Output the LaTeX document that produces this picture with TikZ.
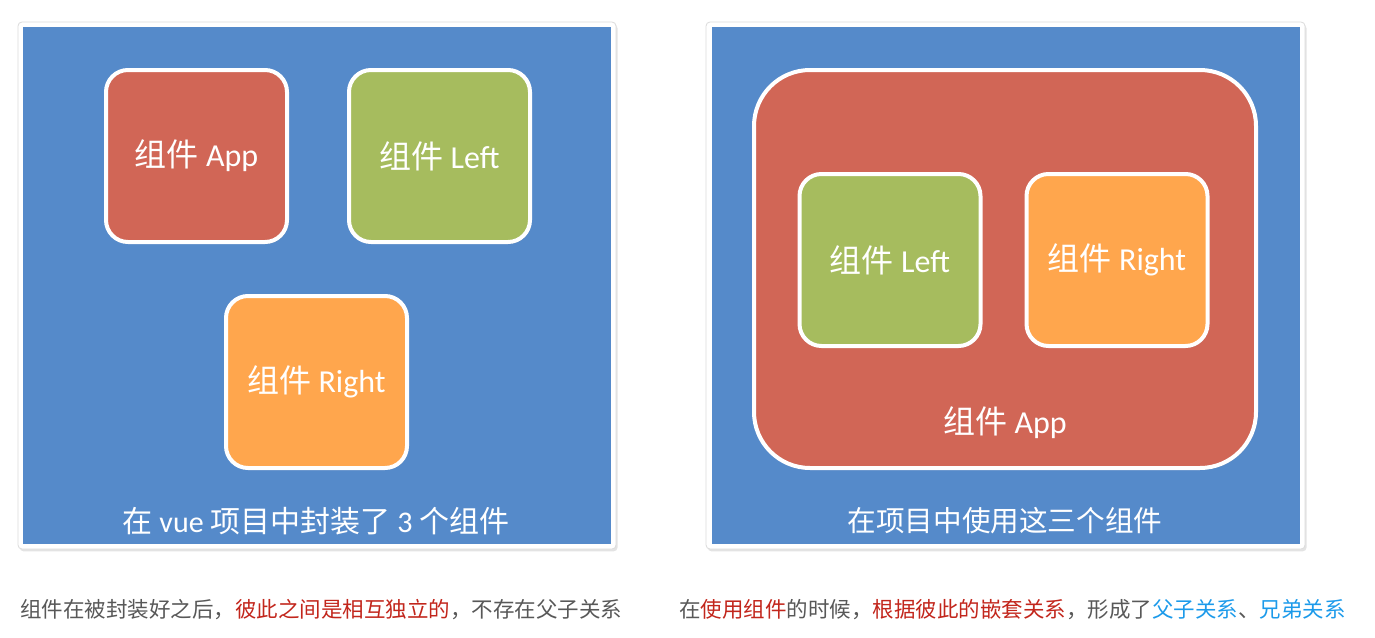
\documentclass[tikz,border=0pt]{standalone}
\usepackage{fontspec}
\setmainfont{Carlito}
\newfontfamily\cjk{Noto Sans CJK SC}
\newcommand{\zh}[1]{{\cjk #1}}
\usetikzlibrary{positioning,shadows}
\definecolor{panelblue}{RGB}{85,138,202}
\definecolor{appred}{RGB}{209,102,86}
\definecolor{leftgreen}{RGB}{166,188,94}
\definecolor{rightorange}{RGB}{255,166,77}
\definecolor{capgray}{RGB}{88,88,88}
\definecolor{capred}{RGB}{194,38,28}
\definecolor{capblue}{RGB}{28,154,234}

\begin{document}
\begin{tikzpicture}[x=0.5pt,y=-0.5pt,
    panelframe/.style={fill=white,draw=black!14,line width=0.4pt,
      rounded corners=2pt,
      drop shadow={shadow xshift=0.8pt,shadow yshift=-1.2pt,opacity=0.22}},
    compbox/.style={draw=white,line width=2pt,rounded corners=11pt,
      text=white,font=\fontsize{16}{19}\selectfont,inner sep=0pt,
      minimum width=90.5pt,minimum height=86pt,
      drop shadow={shadow xshift=0.5pt,shadow yshift=-1pt,opacity=0.28}},
    panelcap/.style={text=white,font=\fontsize{15}{18}\selectfont,inner sep=0pt},
    notecap/.style={anchor=west,text=capgray,font=\fontsize{10.75}{13}\selectfont,
      inner sep=0pt}]
  \useasboundingbox (0,0) rectangle (1375,637);

  % left panel: components on their own
  \draw[panelframe] (18,22) rectangle (616,549);
  \fill[panelblue] (23,27) rectangle (611,544);
  \node[compbox,fill=appred] (appA) at (196.5,156) {\zh{组件} App};
  \node[compbox,fill=leftgreen] (leftA) at (439.5,156) {\zh{组件} Left};
  \node[compbox,fill=rightorange] (rightA) at (316.5,382) {\zh{组件} Right};
  \node[panelcap] (capA) at (316,521)
    {\zh{在} vue \zh{项目中封装了} 3 \zh{个组件}};

  % right panel: App wraps Left and Right
  \draw[panelframe] (706,22) rectangle (1305,549);
  \fill[panelblue] (712,27) rectangle (1300,544);
  \node[compbox,fill=appred,minimum width=251pt,minimum height=199pt,
    rounded corners=28pt] (appB) at (1005,269) {};
  \node[compbox,fill=leftgreen] (leftB) at (890,260) {\zh{组件} Left};
  \node[compbox,fill=rightorange] (rightB) at (1117,260) {\zh{组件} Right};
  \node[panelcap,font=\fontsize{16}{19}\selectfont] (appBname) at (1005,423)
    {\zh{组件} App};
  \node[panelcap,font=\fontsize{14.3}{17}\selectfont] (capB) at (1005,521)
    {\zh{在项目中使用这三个组件}};

  % notes under the panels
  \node[notecap] (noteA) at (20,610)
    {\zh{组件在被封装好之后，\textcolor{capred}{彼此之间是相互独立的}，不存在父子关系}};
  \node[notecap] (noteB) at (679,610)
    {\zh{在\textcolor{capred}{使用组件}的时候，\textcolor{capred}{根据彼此的嵌套关系}，形成了\textcolor{capblue}{父子关系}、\textcolor{capblue}{兄弟关系}}};
\end{tikzpicture}
\end{document}
